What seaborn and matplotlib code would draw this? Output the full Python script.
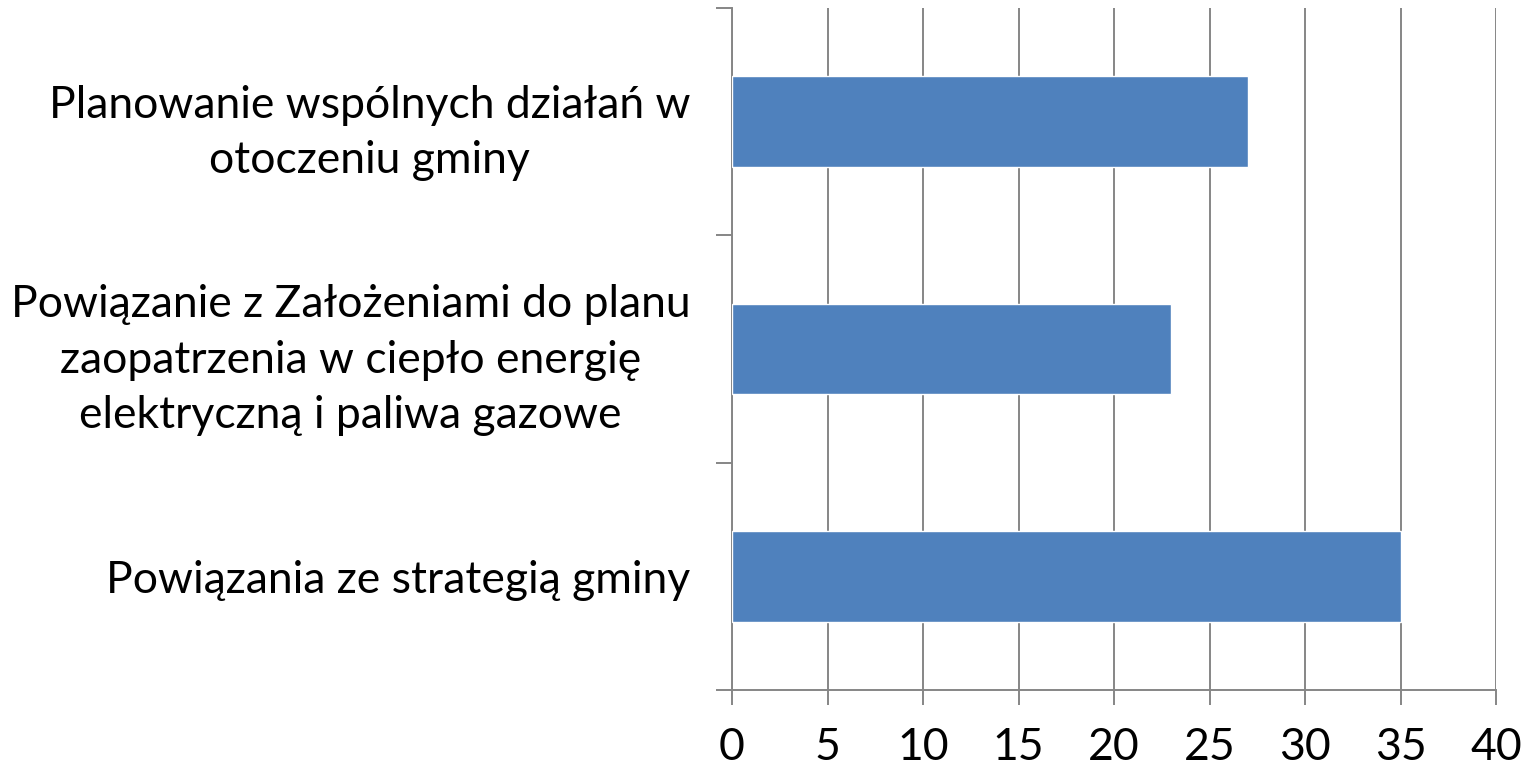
import matplotlib
matplotlib.use("Agg")
import matplotlib.pyplot as plt
import seaborn as sns
import pandas as pd

categories = [
    "Planowanie wspólnych działań w\notoczeniu gminy",
    "Powiązanie z Założeniami do planu\nzaopatrzenia w ciepło energię\nelektryczną i paliwa gazowe",
    "Powiązania ze strategią gminy",
]
values = [27, 23, 35]
x_ticks = [0, 5, 10, 15, 20, 25, 30, 35, 40]

df = pd.DataFrame({"kategoria": categories, "wartosc": values})

sns.set_style("white")
plt.rcParams["font.family"] = ["Lato", "DejaVu Sans"]
plt.rcParams["text.color"] = "black"

fig = plt.figure(figsize=(15.3, 7.71), dpi=100)
ax = fig.add_axes([732 / 1530, 1 - 690 / 771, (1496 - 732) / 1530, (690 - 8) / 771])

sns.barplot(data=df, x="wartosc", y="kategoria", order=categories,
            color="#4F81BD", saturation=1, width=0.4, ax=ax, zorder=3)

grid_c = "#868686"
ax.set_xlim(0, 40)
ax.set_ylim(2.5, -0.5)
ax.set_xticks(x_ticks)
ax.set_xticklabels([str(t) for t in x_ticks])
ax.xaxis.grid(True, color=grid_c, linewidth=1.4, zorder=0)
ax.yaxis.grid(False)
ax.set_axisbelow(True)

# category boundary ticks
ax.set_yticks([-0.5, 0.5, 1.5, 2.5], minor=True)
ax.tick_params(axis="y", which="minor", length=11.5, width=1.4, color=grid_c, left=True)
ax.tick_params(axis="y", which="major", length=0, pad=30, labelsize=32, labelcolor="black")
ax.tick_params(axis="x", length=11, width=1.4, color=grid_c, bottom=True, pad=16,
               labelsize=32, labelcolor="black")
for lbl in ax.get_yticklabels():
    lbl.set_multialignment("center")
    lbl.set_linespacing(1.44)

for side in ["top", "right"]:
    ax.spines[side].set_visible(False)
for side in ["left", "bottom"]:
    ax.spines[side].set_color(grid_c)
    ax.spines[side].set_linewidth(1.4)

ax.set_xlabel("")
ax.set_ylabel("")

fig.savefig("out.png", dpi=100)
